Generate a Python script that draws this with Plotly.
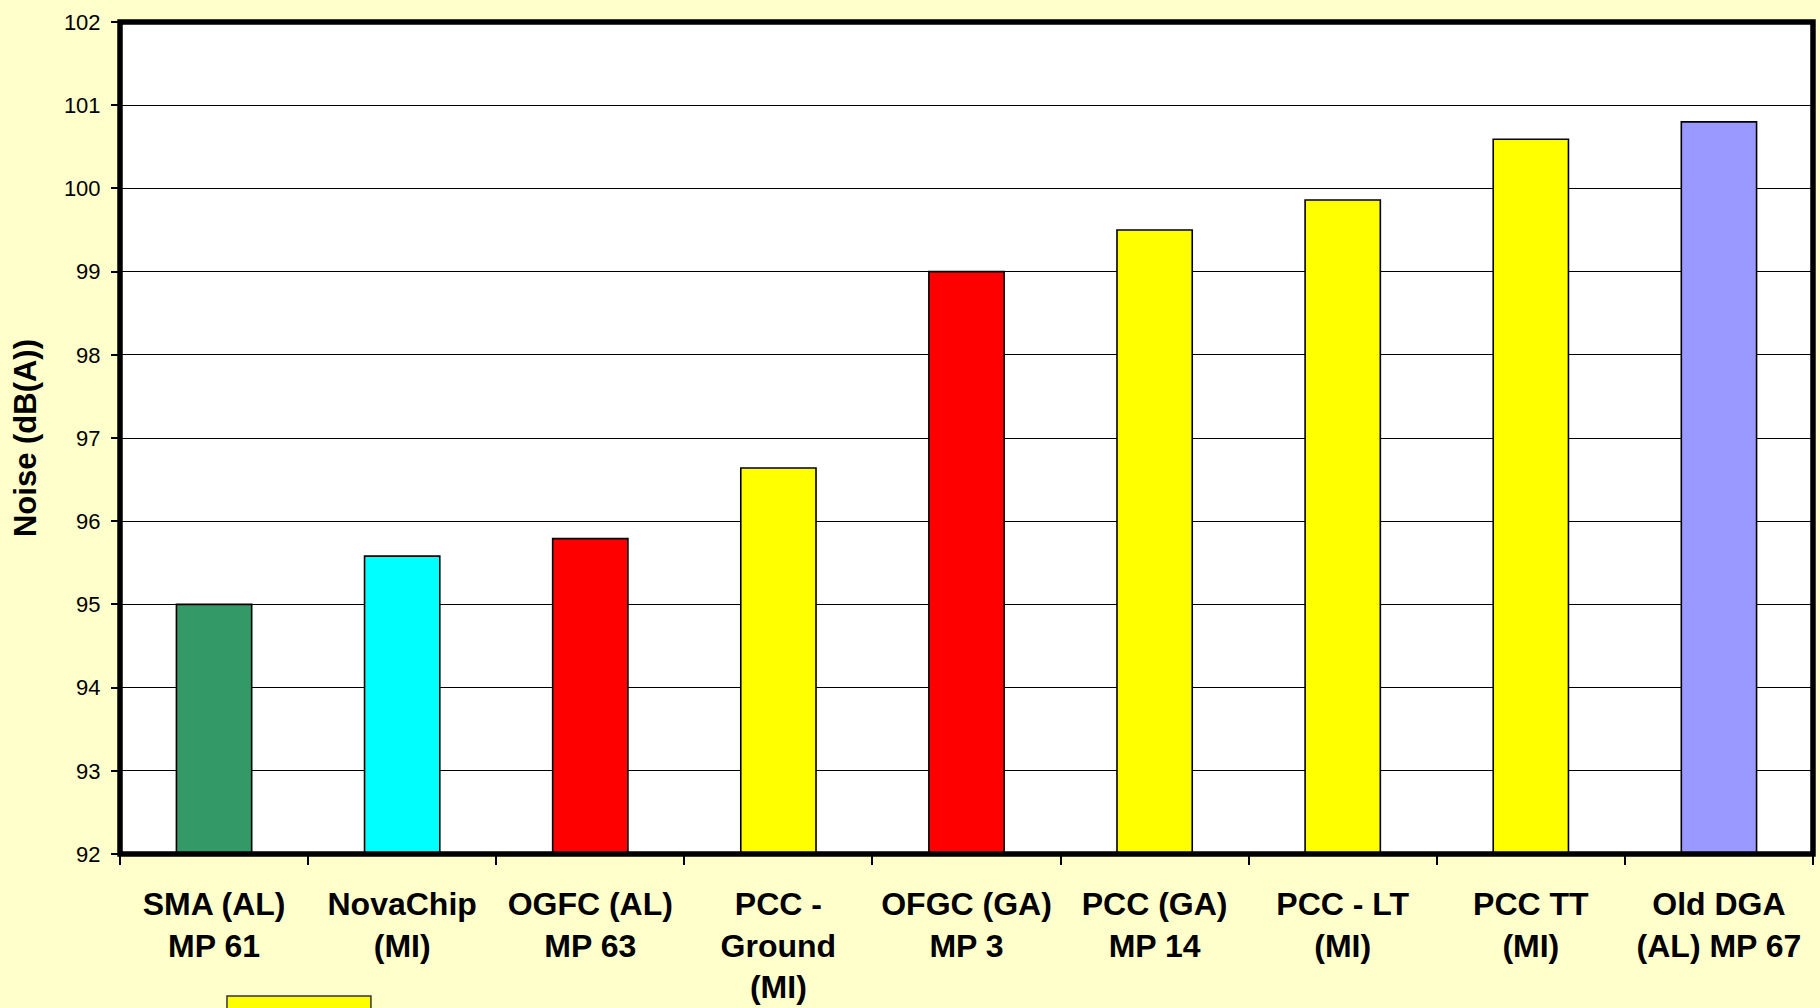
import plotly.graph_objects as go

# Pavement surfaces and their measured noise levels
categories = [
    "SMA (AL)<br>MP 61",
    "NovaChip<br>(MI)",
    "OGFC (AL)<br>MP 63",
    "PCC -<br>Ground<br>(MI)",
    "OFGC (GA)<br>MP 3",
    "PCC (GA)<br>MP 14",
    "PCC - LT<br>(MI)",
    "PCC TT<br>(MI)",
    "Old DGA<br>(AL) MP 67",
]
noise_dba = [95.0, 95.58, 95.79, 96.64, 99.0, 99.5, 99.86, 100.59, 100.8]
bar_colors = ["#339966", "#00FFFF", "#FF0000", "#FFFF00", "#FF0000",
              "#FFFF00", "#FFFF00", "#FFFF00", "#9999FF"]
y_floor = 92
y_ticks = list(range(92, 103))

FONT = "Liberation Sans, Arial, sans-serif"

# bars rise from the axis floor up to each measured level
fig = go.Figure(
    go.Bar(
        x=categories,
        y=[v - y_floor for v in noise_dba],
        base=y_floor,
        marker=dict(color=bar_colors, line=dict(color="black", width=1.6)),
        width=0.4,
        showlegend=False,
        hovertext=[f"{v} dB(A)" for v in noise_dba],
    )
)

W, H = 1820, 1008
L, R, T, B = 120, 6.5, 21.5, 154

fig.update_layout(
    width=W,
    height=H,
    margin=dict(l=L, r=R, t=T, b=B, autoexpand=False),
    paper_bgcolor="#FFFFCC",
    plot_bgcolor="white",
    font=dict(family=FONT, color="black"),
    bargap=0.6,
)

fig.update_xaxes(
    type="category",
    tickson="boundaries",
    ticks="outside",
    ticklen=10,
    tickwidth=2,
    tickcolor="black",
    showgrid=False,
    showline=False,
    tickfont=dict(family=FONT, size=32, color="black", weight="bold"),
    ticklabelstandoff=28,
)

fig.update_yaxes(
    range=[92, 102],
    tickvals=y_ticks,
    ticks="outside",
    ticklen=8,
    tickwidth=1.5,
    tickcolor="black",
    showgrid=True,
    gridcolor="black",
    gridwidth=1.2,
    zeroline=False,
    showline=False,
    tickfont=dict(family=FONT, size=22, color="black"),
    ticklabelstandoff=6,
    title=dict(text="<b>Noise (dB(A))</b>", font=dict(family=FONT, size=31, color="black"), standoff=18),
)

# heavy frame around the plotting area
fig.add_shape(
    type="rect", xref="paper", yref="paper", x0=0, x1=1, y0=0, y1=1,
    line=dict(color="black", width=5.5), layer="above",
)

# legend swatch partly visible at the lower edge
pw = W - L - R
ph = H - T - B


def px_to_paper_y(py):
    return 1 - (py - T) / ph


fig.add_shape(
    type="rect", xref="paper", yref="paper",
    x0=(227 - L) / pw, x1=(371 - L) / pw,
    y0=px_to_paper_y(1014), y1=px_to_paper_y(996),
    fillcolor="#FFFF00", line=dict(color="#333333", width=1.5), layer="above",
)

fig.write_html("out.html")
